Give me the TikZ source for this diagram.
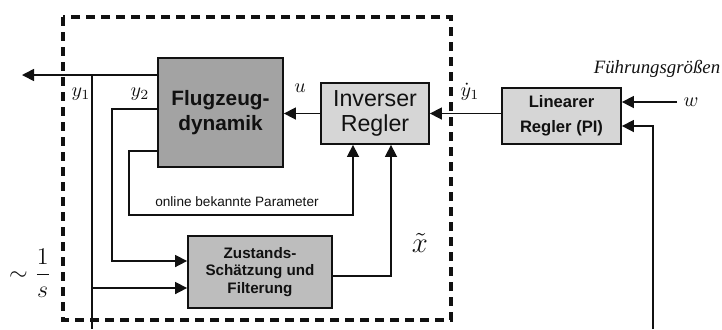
\documentclass[tikz,border=0pt]{standalone}
\usepackage{fontspec}
\setmainfont{Liberation Serif}
\setsansfont{Liberation Sans}
\usetikzlibrary{arrows.meta,positioning}
\definecolor{fzInk}{HTML}{111111}
\definecolor{fzDark}{HTML}{A3A3A3}
\definecolor{fzMid}{HTML}{BDBDBD}
\definecolor{fzLight}{HTML}{D6D6D6}
\tikzset{
  every picture/.style={text=fzInk},
  fz box/.style={draw=fzInk, line width=0.9pt, align=center, inner sep=0pt,
    font=\sffamily\bfseries},
  fz arrow/.style={-{Triangle[length=6pt,width=6pt]}, draw=fzInk,
    line width=0.8pt},
  fz line/.style={draw=fzInk, line width=0.8pt},
  fz frame/.style={draw=fzInk, line width=1.6pt, dash pattern=on 4.5pt off 3pt},
  fz sig/.style={font=\normalsize, inner sep=1pt}
}
\begin{document}
\begin{tikzpicture}[x=0.5pt,y=-0.5pt]
  \useasboundingbox (0,0) rectangle (722,329);
  % Rahmen um den inneren Kreis
  \draw[fz frame] (63,17) rectangle (451,320);
  % Bloecke
  \node[fz box, fill=fzDark, minimum width=62.5pt, minimum height=54.5pt,
    font=\sffamily\bfseries\fontsize{10.4}{12.5}\selectfont]
    (fd) at (220.5,112.5) {Flugzeug-\\dynamik};
  \node[fz box, fill=fzLight, minimum width=54pt, minimum height=30.5pt,
    font=\sffamily\fontsize{11.6}{12.5}\selectfont]
    (ir) at (375,113.5) {Inverser\\Regler};
  \node[fz box, fill=fzLight, minimum width=59.5pt, minimum height=28pt,
    font=\sffamily\bfseries\fontsize{8.3}{12.5}\selectfont]
    (lr) at (561.5,116) {Linearer\\Regler (PI)};
  \node[fz box, fill=fzMid, minimum width=72pt, minimum height=36pt,
    font=\sffamily\bfseries\fontsize{7.6}{8.8}\selectfont]
    (zs) at (260,272) {Zustands-\\Sch\"atzung und\\Filterung};
  % Hilfspunkte
  \coordinate (out) at (22,75);
  \coordinate (ya) at (92,75);
  \coordinate (yb) at (92,329);
  \coordinate (yz) at (92,288);
  \coordinate (yc) at (112,109);
  \coordinate (pb) at (129,215);
  \coordinate (w) at (677,102);
  \coordinate (fb) at (653,329);
  % Verbindungen
  \draw[fz arrow] (fd.west |- out) -- (out);
  \draw[fz line] (ya) -- (yb);
  \draw[fz arrow] (yz) -- (zs.west |- yz);
  \draw[fz arrow] (fd.west |- yc) -- (yc) |- ([yshift=5.5pt]zs.west);
  \draw[fz arrow] (fd.west |- 0,151) -| (pb) -| ([xshift=-11pt]ir.south);
  \draw[fz arrow] ([yshift=-2pt]zs.east) -| ([xshift=8pt]ir.south);
  \draw[fz arrow] (ir.west) -- (fd.east |- ir.west);
  \draw[fz arrow] (lr.west |- ir.east) -- (ir.east);
  \draw[fz arrow] (w) -- (lr.east |- w);
  \draw[fz arrow] (fb) |- ([yshift=-5pt]lr.east);
  % Beschriftungen
  \node[fz sig] (ly1) at (81,94) {$y_1$};
  \node[fz sig] (ly2) at (140,94) {$y_2$};
  \node[fz sig] (lu) at (300,88) {$u$};
  \node[fz sig] (ldy) at (470,92) {$\dot{y}_1$};
  \node[font=\Large] (lx) at (420,243) {$\tilde{x}$};
  \node[font=\sffamily\fontsize{6.8}{8}\selectfont] (lp) at (237,202)
    {online bekannte Parameter};
  \node[font=\normalsize] (lw) at (691,102) {$w$};
  \node[font=\itshape\fontsize{9.4}{11}\selectfont] (lf) at (657,69)
    {F\"uhrungsgr\"o\ss en};
  \node[font=\large] (ls) at (30,273) {$\sim\displaystyle\frac{1}{s}$};
\end{tikzpicture}
\end{document}
